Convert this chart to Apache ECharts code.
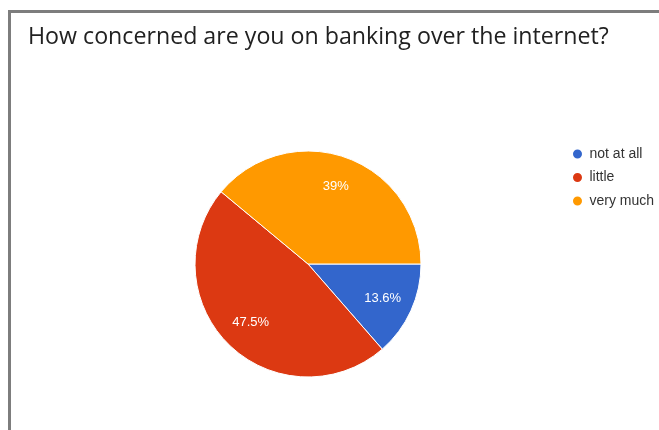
<!DOCTYPE html>
<html>
<head>
<meta charset="utf-8">
<style>
  html, body { margin: 0; padding: 0; background: #ffffff; }
  #chart { width: 659px; height: 430px; }
</style>
<script src="https://cdn.jsdelivr.net/npm/echarts@6/dist/echarts.min.js"></script>
</head>
<body>
<div id="chart"></div>
<script>
// Survey answers and their shares (percent)
const categories = ['not at all', 'little', 'very much'];
const shares = [13.6, 47.5, 39];
const sliceColors = ['#3366cc', '#dc3912', '#ff9900'];
const titleText = 'How concerned are you on banking over the internet?';

const chart = echarts.init(document.getElementById('chart'), null, { renderer: 'canvas' });

const pieCenter = [308, 264];
const pieRadius = 113;

const sliceData = categories.map((name, i) => ({
  name: name,
  value: shares[i],
  itemStyle: { color: sliceColors[i] }
}));

// Same slices, transparent, used only to place the percent labels further out
const labelData = categories.map((name, i) => ({
  name: name,
  value: shares[i],
  itemStyle: { color: 'rgba(0,0,0,0)' }
}));

chart.setOption({
  backgroundColor: '#ffffff',
  animation: false,
  title: {
    text: titleText,
    left: 23,
    top: 21,
    textStyle: {
      fontFamily: 'Open Sans',
      fontSize: 23.2,
      fontWeight: 'normal',
      color: '#212121'
    }
  },
  legend: {
    orient: 'vertical',
    left: 566,
    top: 142,
    icon: 'circle',
    itemWidth: 12,
    itemHeight: 11,
    itemGap: 9.5,
    data: categories,
    textStyle: {
      fontFamily: 'Liberation Sans',
      fontSize: 14,
      color: '#333333',
      padding: [0, 0, 0, 1]
    }
  },
  graphic: [{
    type: 'rect',
    silent: true,
    shape: { x: 9.5, y: 11.5, width: 720, height: 500 },
    style: { fill: 'none', stroke: '#7d7d7d', lineWidth: 3 }
  }],
  series: [
    {
      type: 'pie',
      center: pieCenter,
      radius: [0, pieRadius],
      startAngle: 0,
      clockwise: true,
      silent: true,
      label: { show: false },
      labelLine: { show: false },
      itemStyle: { borderColor: '#ffffff', borderWidth: 1 },
      emphasis: { disabled: true },
      data: sliceData
    },
    {
      type: 'pie',
      center: pieCenter,
      radius: [0, 158],
      startAngle: 0,
      clockwise: true,
      silent: true,
      legendHoverLink: false,
      z: 5,
      label: {
        show: true,
        position: 'inside',
        formatter: '{c}%',
        fontFamily: 'Liberation Sans',
        fontSize: 13,
        color: '#ffffff'
      },
      labelLine: { show: false },
      emphasis: { disabled: true },
      data: labelData
    }
  ]
});
</script>
</body>
</html>
